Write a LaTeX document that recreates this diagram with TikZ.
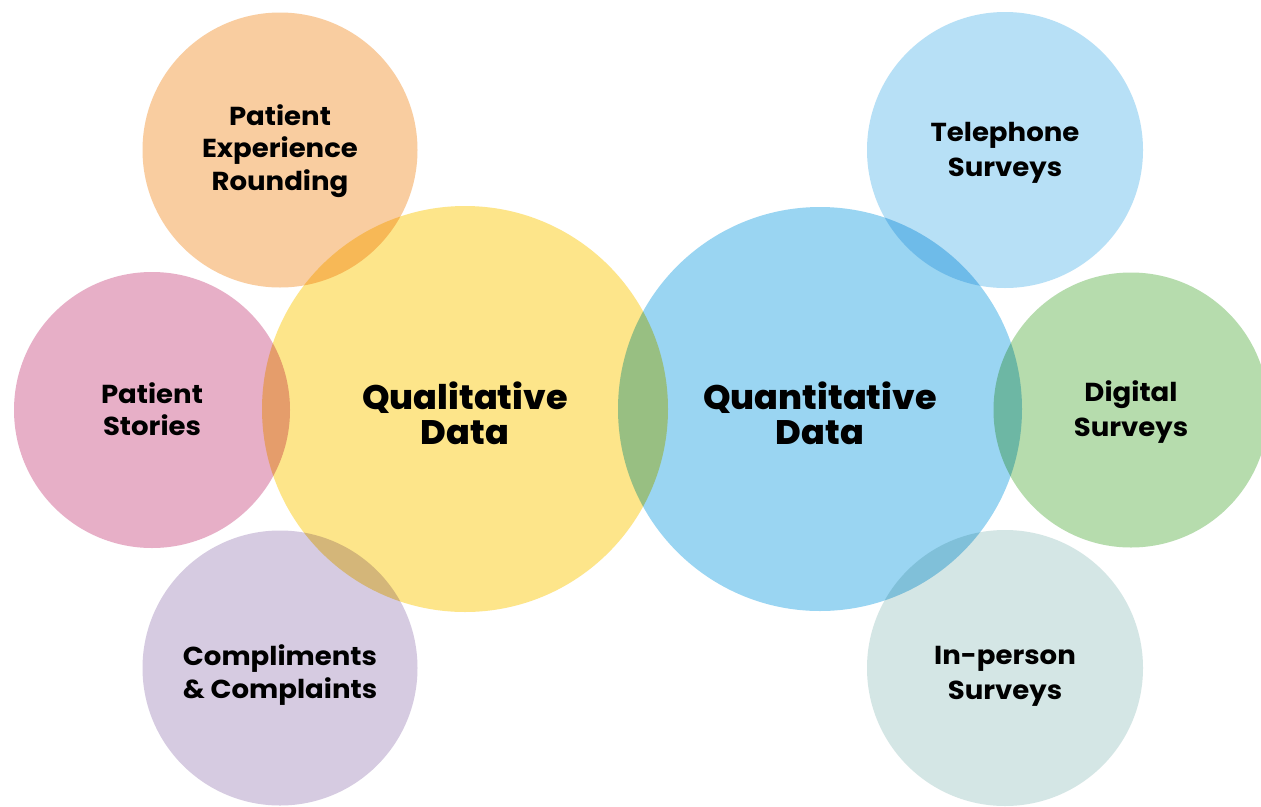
\documentclass[tikz,border=0pt]{standalone}
\usepackage{fontspec}
\setmainfont{Poppins}
\newfontfamily\labelfont{Poppins}[FakeStretch=1.06]
\newfontfamily\titlefont{Poppins}[UprightFont=* ExtraBold, FakeStretch=1.03]
\begin{document}
\begin{tikzpicture}[x=1pt,y=-1pt,
  bubble/.style={circle, minimum size=#1, inner sep=0pt, draw=none},
  small/.style={align=center, font=\labelfont\fontsize{26}{#1}\selectfont\bfseries},
  small/.default=32.5,
  big/.style={align=center, font=\titlefont\fontsize{34}{35}\selectfont},
  ]
\definecolor{cYellow}{RGB}{253,229,138}
\definecolor{cBlue}{RGB}{154,213,242}
\definecolor{cOrange}{RGB}{249,205,160}
\definecolor{cPink}{RGB}{231,175,199}
\definecolor{cPurple}{RGB}{214,203,225}
\definecolor{cSky}{RGB}{183,224,246}
\definecolor{cGreen}{RGB}{182,220,173}
\definecolor{cTeal}{RGB}{212,230,229}
\useasboundingbox[fill=white] (0,0) rectangle (1261,806);
% overlapping discs, darkened where they cross
\begin{scope}[blend group=multiply]
  \node[bubble=406pt, fill=cYellow] (qual) at (465,409) {};
  \node[bubble=404pt, fill=cBlue] (quant) at (820,409) {};
  \node[bubble=275pt, fill=cOrange] (round) at (280,150) {};
  \node[bubble=276pt, fill=cPink] (stories) at (152,410) {};
  \node[bubble=275pt, fill=cPurple] (compl) at (280,668) {};
  \node[bubble=276pt, fill=cSky] (phone) at (1005,150) {};
  \node[bubble=275pt, fill=cGreen] (digital) at (1131,410) {};
  \node[bubble=276pt, fill=cTeal] (person) at (1005,668) {};
\end{scope}
\node[big] (qualtext) at (465,413) {Qualitative\\Data};
\node[big] (quanttext) at (820,413) {Quantitative\\Data};
\node[small] (roundtext) at (280,151) {Patient\\Experience\\Rounding};
\node[small] (storiestext) at (152,409) {Patient\\Stories};
\node[small] (compltext) at (280,675) {Compliments\\\& Complaints};
\node[small=35] (phonetext) at (1005,153) {Telephone\\Surveys};
\node[small=35] (digitaltext) at (1131,412) {Digital\\Surveys};
\node[small=35] (persontext) at (1005,676) {In-person\\Surveys};
\end{tikzpicture}
\end{document}
